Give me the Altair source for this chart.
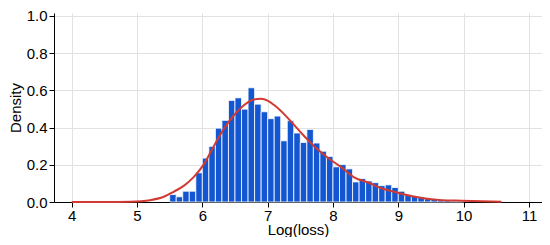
import altair as alt
import pandas as pd

# Histogram bins (left edges, width 0.1) and densities
bin_starts = [5.5, 5.6, 5.7, 5.8, 5.9, 6.0, 6.1, 6.2, 6.3, 6.4, 6.5, 6.6, 6.7, 6.8, 6.9,
              7.0, 7.1, 7.2, 7.3, 7.4, 7.5, 7.6, 7.7, 7.8, 7.9, 8.0, 8.1, 8.2, 8.3, 8.4,
              8.5, 8.6, 8.7, 8.8, 8.9, 9.0, 9.1, 9.2, 9.3, 9.4, 9.5, 9.6, 9.7, 9.8, 9.9]
bin_width = 0.1
densities = [0.040, 0.028, 0.058, 0.058, 0.157, 0.236, 0.299, 0.397, 0.439, 0.546,
             0.560, 0.499, 0.614, 0.526, 0.485, 0.448, 0.462, 0.329, 0.437, 0.371,
             0.320, 0.390, 0.317, 0.273, 0.245, 0.189, 0.201, 0.178, 0.108, 0.126,
             0.113, 0.104, 0.088, 0.092, 0.078, 0.058, 0.040, 0.031, 0.028, 0.018,
             0.014, 0.010, 0.008, 0.005, 0.004]

# Fitted density curve
curve_x = [4.0, 4.5, 4.9, 5.2, 5.41, 5.56, 5.72, 5.87, 6.02, 6.18, 6.33, 6.49, 6.64,
           6.79, 6.9, 7.0, 7.1, 7.31, 7.51, 7.72, 7.92, 8.13, 8.33, 8.54, 8.74, 8.95,
           9.05, 9.36, 9.67, 9.97, 10.28, 10.58]
curve_y = [0.000, 0.000, 0.002, 0.010, 0.028, 0.055, 0.088, 0.135, 0.201, 0.303, 0.394,
           0.469, 0.521, 0.551, 0.555, 0.545, 0.521, 0.451, 0.373, 0.297, 0.238, 0.186,
           0.131, 0.105, 0.074, 0.054, 0.044, 0.021, 0.010, 0.007, 0.004, 0.001]

x_ticks = [4, 5, 6, 7, 8, 9, 10, 11]
y_ticks = [0.0, 0.2, 0.4, 0.6, 0.8, 1.0]

bars_df = pd.DataFrame({
    "start": bin_starts,
    "end": [b + bin_width for b in bin_starts],
    "density": densities,
    "base": [0.0] * len(bin_starts),
})
curve_df = pd.DataFrame({"x": curve_x, "y": curve_y})

x_scale = alt.Scale(domain=[3.729, 11.2], nice=False, zero=False)
y_scale = alt.Scale(domain=[0, 1.016], nice=False)

x_axis = alt.Axis(values=x_ticks, format="d", title="Log(loss)",
                  titleY=32, titleBaseline="alphabetic",
                  labelPadding=1, labelOverlap=False, tickCount=8)
y_axis = alt.Axis(values=y_ticks, format=".1f", title="Density",
                  titleX=-34, titleBaseline="alphabetic",
                  labelPadding=2, labelOverlap=False, tickCount=6)

bars = alt.Chart(bars_df).mark_rect(
    color="#1356d2", stroke="white", strokeWidth=0.8
).encode(
    x=alt.X("start:Q", scale=x_scale, axis=x_axis),
    x2="end:Q",
    y=alt.Y("density:Q", scale=y_scale, axis=y_axis),
    y2="base:Q",
)

line = alt.Chart(curve_df).mark_line(
    color="#d03a32", strokeWidth=2, interpolate="monotone"
).encode(
    x=alt.X("x:Q", scale=x_scale, axis=x_axis),
    y=alt.Y("y:Q", scale=y_scale, axis=y_axis),
)

chart = alt.layer(bars, line).properties(
    width=488,
    height=189,
    padding={"left": 46, "top": 5, "right": 0, "bottom": 35},
    autosize=alt.AutoSizeParams(type="none"),
).configure_view(
    stroke=None
).configure_axis(
    domainColor="black",
    domainWidth=1,
    tickColor="black",
    tickSize=5,
    gridColor="#e2e2e2",
    gridWidth=1,
    labelFont="Liberation Sans",
    titleFont="Liberation Sans",
    labelFontSize=15,
    titleFontSize=15,
    titleFontWeight="normal",
    labelColor="black",
    titleColor="black",
)

chart.save("out.html", embed_options={"renderer": "svg", "actions": False})
